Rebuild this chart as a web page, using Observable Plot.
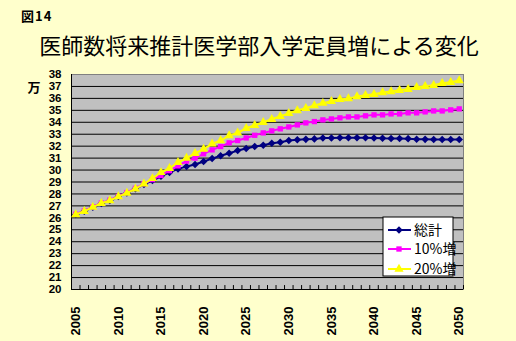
<!DOCTYPE html>
<html><head><meta charset="utf-8">
<script src="https://cdn.jsdelivr.net/npm/d3@7"></script>
<script src="https://cdn.jsdelivr.net/npm/@observablehq/plot@0.6"></script>
<style>html,body{margin:0;padding:0;background:#FFFFCC;} #chart{position:relative;width:516px;height:341px;overflow:hidden;background:#FFFFCC}</style>
</head><body><div id="chart"></div>
<script>
const years = d3.range(2005, 2051);
const total = [26.28,26.55,26.89,27.2,27.45,27.78,28.08,28.43,28.8,29.12,
  29.48,29.8,30.1,30.29,30.46,30.72,30.96,31.2,31.41,31.63,
  31.8,31.97,32.07,32.25,32.33,32.47,32.53,32.57,32.61,32.68,
  32.69,32.7,32.7,32.7,32.7,32.69,32.66,32.65,32.64,32.63,
  32.58,32.57,32.56,32.56,32.55,32.55];
const plus10 = [26.3,26.58,26.92,27.24,27.48,27.8,28.12,28.47,28.86,29.2,
  29.55,29.95,30.35,30.75,31.0,31.36,31.69,31.97,32.28,32.47,
  32.69,32.91,33.11,33.28,33.45,33.61,33.78,33.95,34.06,34.2,
  34.28,34.37,34.45,34.45,34.54,34.62,34.62,34.7,34.7,34.79,
  34.79,34.87,34.95,34.95,35.04,35.12];
const plus20 = [26.28,26.55,26.89,27.22,27.45,27.78,28.08,28.43,28.85,29.3,
  29.8,30.15,30.65,31.0,31.4,31.75,32.19,32.47,32.89,33.11,
  33.5,33.75,34.0,34.25,34.5,34.75,34.98,35.17,35.4,35.6,
  35.76,35.92,35.98,36.15,36.26,36.34,36.49,36.57,36.68,36.76,
  36.93,37.01,37.1,37.26,37.35,37.49];
const seriesNames = ["総計", "10%増", "20%増"];
const seriesColors = ["#000080", "#FF00FF", "#FFFF00"];
const seriesSymbols = ["diamond2", "square", "triangle"];
const yTicks = d3.range(20, 39);
const xLabelYears = d3.range(2005, 2051, 5);
const xBoundaries = d3.range(2004.5, 2051, 1);
const figLabel = "図14";
const titleText = "医師数将来推計医学部入学定員増による変化";
const unitLabel = "万";

const seriesValues = [total, plus10, plus20];
const markerR = [3.4, 3, 3.4];
const rows = seriesValues.map((vals, s) => years.map((year, i) => ({year, value: vals[i], series: seriesNames[s]})));

const marks = [
  Plot.frame({fill: "#C0C0C0", stroke: "#808080"}),
  Plot.ruleY(yTicks.slice(1, -1), {stroke: "black", strokeWidth: 1}),
  Plot.ruleX([xBoundaries[0]], {stroke: "black"}),
  Plot.ruleY([yTicks[0]], {stroke: "black"}),
  Plot.ruleX(xBoundaries, {x: d => d, y1: 20, y2: 20.33, stroke: "black"}),
  Plot.axisY({ticks: yTicks, tickSize: 0, tickPadding: 10, tickFormat: d => String(d), label: null, fontSize: 11.5}),
  Plot.axisX({ticks: xLabelYears, tickSize: 0, tickPadding: 17, tickRotate: -90, tickFormat: d => String(d), label: null, fontSize: 13})
];
rows.forEach((data, s) => {
  marks.push(Plot.line(data, {x: "year", y: "value", stroke: seriesColors[s], strokeWidth: 2}));
  marks.push(Plot.dot(data, {x: "year", y: "value", symbol: () => seriesSymbols[s], fill: seriesColors[s], stroke: "none", r: markerR[s]}));
});

const plot = Plot.plot({
  width: 516, height: 341,
  marginLeft: 71, marginRight: 53, marginTop: 74, marginBottom: 52,
  x: {type: "linear", domain: [2004.5, 2050.5], label: null},
  y: {domain: [20, 38], label: null},
  style: {background: "#FFFFCC", fontFamily: "'Liberation Sans', Arial, sans-serif", fontSize: "11.5px", fontWeight: "bold", color: "black"},
  marks
});
document.getElementById("chart").appendChild(plot);

const svg = d3.select(plot);
const cjk = "'Noto Sans CJK JP', sans-serif";
svg.append("text").attr("x", 21).attr("y", 16).attr("dy", "0.35em").attr("text-anchor", "start")
  .attr("font-family", cjk).attr("font-size", 13).attr("font-weight", "bold").attr("letter-spacing", 1).text(figLabel);
svg.append("text").attr("x", 259).attr("y", 46).attr("dy", "0.35em").attr("text-anchor", "middle")
  .attr("font-family", cjk).attr("font-size", 22).attr("font-weight", "normal").text(titleText);
svg.append("text").attr("x", 34).attr("y", 87).attr("dy", "0.35em").attr("text-anchor", "middle")
  .attr("font-family", cjk).attr("font-size", 13).attr("font-weight", "bold").text(unitLabel);

const lg = svg.append("g");
lg.append("rect").attr("x", 383).attr("y", 217).attr("width", 70).attr("height", 59)
  .attr("fill", "white").attr("stroke", "black");
const entryY = [230, 249, 269];
const d3Sym = {diamond2: d3.symbolDiamond2, square: d3.symbolSquare, triangle: d3.symbolTriangle};
seriesNames.forEach((name, s) => {
  const y = entryY[s];
  lg.append("line").attr("x1", 388).attr("x2", 411).attr("y1", y).attr("y2", y)
    .attr("stroke", seriesColors[s]).attr("stroke-width", 2);
  const r = markerR[s];
  lg.append("path").attr("transform", `translate(399,${y})`)
    .attr("d", d3.symbol(d3Sym[seriesSymbols[s]], Math.PI * r * r)())
    .attr("fill", seriesColors[s]);
  lg.append("text").attr("x", 414).attr("y", y).attr("dy", "0.35em").attr("text-anchor", "start")
    .attr("font-family", cjk).attr("font-size", 14).attr("font-weight", "normal").text(name);
});
</script>
</body></html>
